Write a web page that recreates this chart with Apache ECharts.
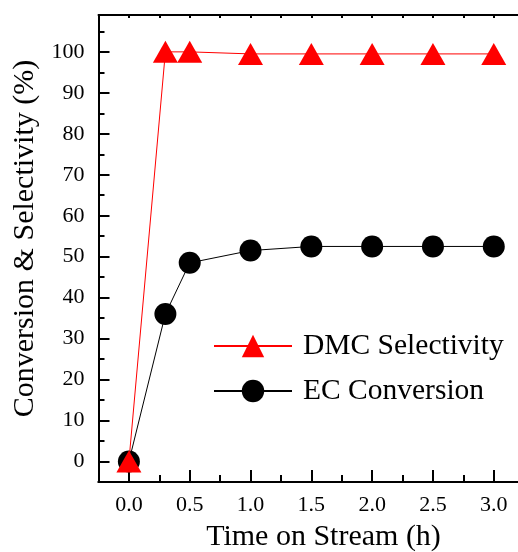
<!DOCTYPE html>
<html>
<head>
<meta charset="utf-8">
<script src="https://cdn.jsdelivr.net/npm/echarts@6/dist/echarts.min.js"></script>
<style>
  html, body { margin: 0; padding: 0; background: #fff; }
  #chart { width: 518px; height: 552px; }
</style>
</head>
<body>
<div id="chart"></div>
<script>
// data
const timeH = [0, 0.3, 0.5, 1.0, 1.5, 2.0, 2.5, 3.0]
const dmcSelectivity = [0, 100, 100, 99.5, 99.5, 99.5, 99.5, 99.5]
const ecConversion = [0, 36, 48.5, 51.5, 52.5, 52.5, 52.5, 52.5]
const xMajorTicks = [0, 0.5, 1.0, 1.5, 2.0, 2.5, 3.0]
const yMajorTicks = [0, 10, 20, 30, 40, 50, 60, 70, 80, 90, 100]

const font = 'Liberation Serif'
const pairs = (xs, ys) => xs.map((x, i) => [x, ys[i]])

const chart = echarts.init(document.getElementById('chart'), null, { renderer: 'canvas' })

const axisLine = () => ({ show: true, onZero: false, lineStyle: { color: '#000', width: 2 } })
const tick = (length) => ({ show: true, inside: true, length, lineStyle: { color: '#000', width: 2 } })
const xMin = -0.25
const xMax = 3.45
const yMin = -5
const yMax = 109

chart.setOption({
  animation: false,
  backgroundColor: '#fff',
  grid: {
    left: 98.5,
    top: 15,
    width: 450,
    bottom: 70,
    containLabel: false,
    outerBoundsMode: 'none'
  },
  legend: {
    orient: 'vertical',
    left: 208,
    top: 326,
    itemWidth: 78,
    itemHeight: 28,
    itemGap: 15,
    data: ['DMC Selectivity', 'EC Conversion'],
    textStyle: { fontFamily: font, fontSize: 29.5, color: '#000', padding: [0, 0, 0, 6] }
  },
  xAxis: [
    {
      // major ticks + labels: nice ticks every 0.5 inside the fixed range
      type: 'value',
      position: 'bottom',
      min: xMin,
      max: xMax,
      minInterval: 0.5,
      maxInterval: 0.5,
      name: 'Time on Stream (h)',
      nameLocation: 'middle',
      nameGap: 40,
      nameTextStyle: { fontFamily: font, fontSize: 30, color: '#000' },
      axisLine: axisLine(),
      axisTick: tick(12),
      axisLabel: {
        margin: 12,
        fontFamily: font,
        fontSize: 22,
        color: '#000',
        showMinLabel: false,
        showMaxLabel: false,
        formatter: (v) => xMajorTicks.some((t) => Math.abs(t - v) < 1e-6) ? v.toFixed(1) : ''
      },
      splitLine: { show: false }
    },
    {
      // minor ticks every 0.25
      type: 'value',
      position: 'bottom',
      min: xMin,
      max: xMax,
      interval: 0.25,
      axisLine: axisLine(),
      axisTick: tick(7),
      axisLabel: { show: false },
      splitLine: { show: false }
    },
    {
      type: 'value',
      position: 'top',
      min: xMin,
      max: xMax,
      interval: 0.25,
      axisLine: axisLine(),
      axisTick: tick(3),
      axisLabel: { show: false },
      splitLine: { show: false }
    }
  ],
  yAxis: [
    {
      // major ticks + labels: nice ticks every 10 inside the fixed range
      type: 'value',
      position: 'left',
      min: yMin,
      max: yMax,
      minInterval: 10,
      maxInterval: 10,
      name: 'Conversion & Selectivity (%)',
      nameLocation: 'middle',
      nameGap: 54,
      nameTextStyle: { fontFamily: font, fontSize: 30, color: '#000', padding: [0, 0, 0, 20] },
      axisLine: axisLine(),
      axisTick: tick(11),
      axisLabel: {
        margin: 14,
        fontFamily: font,
        fontSize: 22,
        color: '#000',
        showMinLabel: false,
        showMaxLabel: false,
        formatter: (v) => yMajorTicks.includes(v) ? String(v) : ''
      },
      splitLine: { show: false }
    },
    {
      // minor ticks every 5
      type: 'value',
      position: 'left',
      min: yMin,
      max: yMax,
      interval: 5,
      axisLine: axisLine(),
      axisTick: tick(6),
      axisLabel: { show: false },
      splitLine: { show: false }
    }
  ],
  series: [
    {
      name: 'EC Conversion',
      type: 'line',
      data: pairs(timeH, ecConversion),
      symbol: 'circle',
      symbolSize: 22,
      itemStyle: { color: '#000' },
      lineStyle: { color: '#000', width: 1 },
      z: 2
    },
    {
      name: 'DMC Selectivity',
      type: 'line',
      data: pairs(timeH, dmcSelectivity),
      symbol: 'triangle',
      symbolSize: [25, 22],
      itemStyle: { color: '#ff0000' },
      lineStyle: { color: '#ff0000', width: 1 },
      z: 3
    }
  ]
})
</script>
</body>
</html>
